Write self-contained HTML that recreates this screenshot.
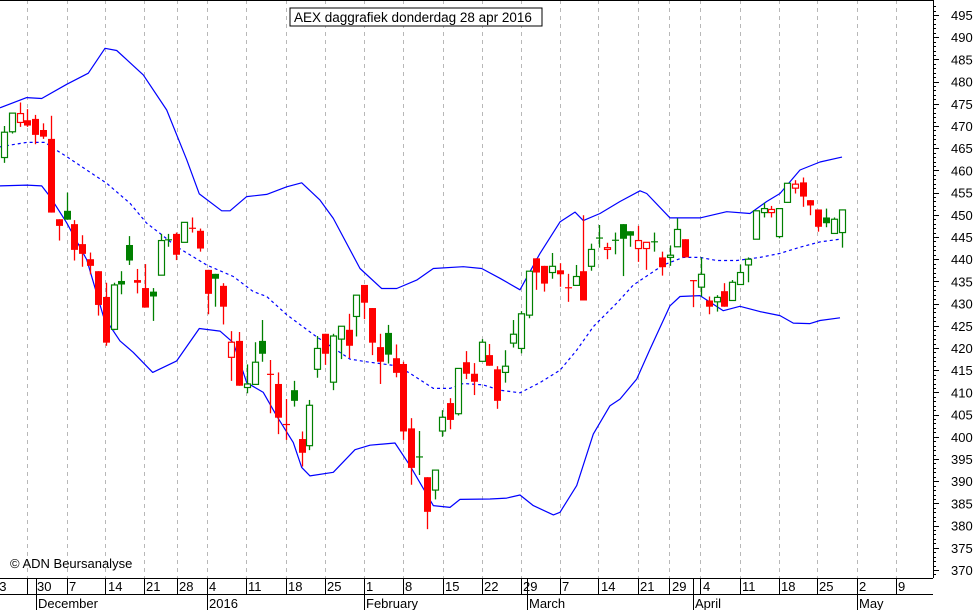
<!DOCTYPE html>
<html><head><meta charset="utf-8"><style>
html,body{margin:0;padding:0;background:#fff;}
svg{display:block;font-family:"Liberation Sans",sans-serif;}
</style></head><body>
<svg id="chart" width="980" height="610" viewBox="0 0 980 610" xmlns="http://www.w3.org/2000/svg">
<rect x="0" y="0" width="980" height="610" fill="#fff"/>
<g id="grid"></g>
<g id="bands"></g>
<g id="candles"></g>
<g id="axes"></g>
<g>
<rect x="290" y="8" width="252" height="18" fill="#fff" stroke="#000" stroke-width="1"/>
<text x="294" y="22" font-size="13.5" fill="#000">AEX daggrafiek donderdag 28 apr 2016</text>
</g>
<text x="10" y="568" font-size="13" fill="#000">© ADN Beursanalyse</text>
</svg>
<script>
const opens=[462.9,468.7,470.8,471.3,471.6,469.1,467.1,449.0,450.9,447.9,
443.4,440.0,437.3,431.5,424.2,435.1,443.2,435.3,433.5,432.7,
436.4,444.5,445.7,443.8,447.1,446.4,437.6,436.7,434.0,417.9,
421.6,411.1,411.8,421.6,414.2,411.9,402.9,410.5,399.5,398.0,
415.2,423.2,412.3,422.0,424.1,427.1,434.2,429.0,420.2,423.4,
417.7,416.4,401.9,395.6,390.9,388.0,401.3,407.6,405.2,416.8,
414.2,417.0,418.4,415.2,414.5,421.1,419.9,427.4,440.2,438.5,
437.0,437.5,433.7,434.1,437.3,438.4,444.9,442.2,444.4,447.9,
446.3,442.4,442.4,444.05,440.4,440.4,442.8,444.5,435.3,433.7,
430.7,430.4,432.8,430.7,434.3,438.7,444.5,450.5,450.5,445.1,
452.8,456.0,457.3,453.3,451.2,449.4,445.8,446.0];
const highs=[470.0,472.9,475.3,473.8,472.5,470.6,472.3,449.0,455.0,448.8,
445.4,441.5,437.3,434.7,434.7,437.3,445.2,437.8,438.9,433.5,
445.7,445.7,446.0,448.3,449.4,446.9,437.6,436.7,434.6,423.8,
423.6,416.3,421.3,426.3,417.3,414.5,408.5,412.6,401.2,408.3,
422.7,423.2,423.2,424.9,427.7,431.9,434.2,429.0,423.2,425.2,
420.8,416.9,404.2,401.3,390.9,392.5,406.0,408.7,415.4,419.3,
416.6,422.0,420.9,415.9,419.5,426.3,428.3,437.3,440.2,438.5,
441.4,439.1,436.7,438.7,449.9,443.5,447.7,443.7,446.0,447.9,
446.3,447.5,443.8,446.0,441.7,443.1,449.2,444.5,435.3,440.4,
431.6,431.9,434.6,435.3,438.8,440.4,450.9,452.7,452.0,451.4,
457.1,457.8,458.4,453.3,451.2,451.4,449.4,451.2];
const lows=[461.7,468.3,469.8,469.8,465.9,467.1,450.5,444.2,448.9,439.7,
438.3,436.6,427.3,420.5,424.0,432.1,438.7,432.3,429.1,426.1,
436.4,442.8,439.8,443.8,446.0,441.7,427.6,429.3,425.3,412.6,
411.5,409.8,411.8,416.9,405.3,400.6,399.3,406.8,393.3,397.0,
413.3,416.2,410.5,417.5,417.7,422.6,426.5,418.4,411.9,416.5,
413.4,399.3,389.2,391.4,379.2,385.9,400.0,401.7,404.8,413.0,
409.4,417.0,416.0,406.3,412.2,420.1,418.8,426.7,433.1,432.7,
435.6,433.8,430.4,434.1,430.7,437.4,442.6,440.0,441.1,436.2,
442.8,439.4,437.6,441.7,436.3,438.5,442.8,440.4,429.2,431.6,
427.6,428.2,429.3,430.7,434.3,434.8,444.5,449.4,449.4,444.7,
452.8,454.8,451.8,449.9,446.2,447.2,445.8,442.6];
const closes=[468.6,472.9,472.8,470.1,468.0,467.6,450.5,447.5,448.9,442.1,
441.2,438.5,429.7,421.2,434.2,434.3,439.7,434.7,429.1,431.6,
444.2,444.3,441.0,448.3,447.0,442.4,432.2,435.6,429.3,421.3,
411.5,411.9,416.8,418.7,414.0,404.3,402.7,408.1,396.4,407.1,
419.9,418.7,422.7,424.9,420.5,431.9,430.2,421.2,416.9,418.5,
414.4,401.2,393.0,395.4,383.1,392.5,404.4,403.8,415.4,414.2,
412.4,421.3,416.0,408.1,415.9,423.1,427.7,437.3,437.0,434.5,
438.4,436.6,433.5,436.1,430.7,442.2,444.7,442.6,444.3,444.6,
445.3,444.2,443.8,443.95,438.2,440.9,446.7,440.4,435.1,436.6,
429.3,431.4,429.3,434.8,437.0,440.0,450.9,451.4,451.2,451.4,
457.1,456.9,454.1,452.1,447.3,448.1,449.0,451.1];
const upperIdx=[-0.51,2.90,4.81,8.01,10.77,12.90,14.39,17.79,20.78,23.33,24.94,27.80,28.86,31.00,33.55,36.11,38.02,40.36,42.06,45.47,48.24,50.15,52.71,54.83,58.66,61.01,63.35,65.90,68.45,71.01,72.92,73.98,76.12,78.67,81.23,82.08,85.06,88.89,92.30,95.27,97.41,99.11,101.66,104.22,107.03];
const upperBand=[474.1,476.4,476.2,479.4,481.9,487.5,487.0,481.5,473.6,462.4,454.7,450.9,450.9,454.1,454.6,456.3,457.2,453.3,449.2,437.9,433.4,433.4,435.3,437.9,438.3,437.9,435.7,433.1,441.3,448.4,450.6,448.7,450.3,453.0,455.4,454.8,449.3,449.3,450.7,450.3,453.0,454.8,460.1,461.9,463.0];
const midIdx=[-0.51,0.77,2.90,5.24,6.30,8.01,10.56,13.12,16.09,18.22,19.92,22.06,25.89,29.29,31.84,33.55,36.11,39.94,44.19,46.32,50.15,51.85,54.83,56.96,58.66,61.21,63.35,65.90,68.45,71.01,73.14,75.26,78.25,80.37,84.20,86.76,88.89,91.02,93.58,96.55,99.11,101.66,104.22,106.77];
const midBand=[465.3,465.7,466.3,466.3,465.0,463.1,460.1,457.1,452.6,448.1,445.8,442.8,438.7,436.1,432.7,431.6,427.5,422.5,417.5,416.9,416.0,414.3,410.9,410.9,412.0,411.7,410.5,409.9,412.2,415.0,419.5,424.8,430.1,434.2,438.7,440.4,440.4,439.7,439.7,440.4,441.3,442.7,443.9,444.5];
const lowerIdx=[-0.51,2.90,4.81,5.88,8.01,10.56,12.68,14.81,16.51,18.99,22.06,24.94,27.59,29.29,31.00,33.12,34.83,36.95,38.02,39.08,42.06,44.83,46.74,49.94,51.85,54.83,56.96,58.24,62.07,64.20,65.90,67.60,70.16,71.01,73.14,75.26,77.39,78.67,80.80,82.50,85.06,86.33,88.89,91.87,93.99,96.55,99.11,100.80,102.94,104.22,106.77];
const lowerBand=[456.5,456.7,456.5,454.1,448.2,439.9,427.2,421.6,419.0,414.5,417.1,424.4,423.8,421.2,412.2,410.0,404.7,398.7,393.1,391.2,392.0,397.1,398.1,398.6,393.5,384.5,384.1,385.9,386.0,386.2,386.9,384.5,382.4,383.0,389.0,400.6,407.0,408.5,413.0,419.7,429.5,431.6,431.8,428.4,429.4,428.2,427.3,425.6,425.5,426.2,426.8];
const yTicks=[495,490,485,480,475,470,465,460,455,450,445,440,435,430,425,420,415,410,405,400,395,390,385,380,375,370];
const dayLabels=["23","30","7","14","21","28","4","11","18","25","1","8","15","22","29","7","14","21","29","4","11","18","25","2","9"];
const dayLabelX=[-8,37,69,108,146,179,209,248,288,327,366,405,445,484,523,562,601,640,672,703,742,781,819,859,898];
const gridX=[27,67,105,144,177,207,246,286,325,364,403,443,482,521,560,598,638,669,700,740,779,817,857,896];
const monthLabels=["December","2016","February","March","April","May"];
const monthX=[36,207,364,527,693,857];

const NS="http://www.w3.org/2000/svg";
const PLOT_R=933, PLOT_B=578;
const x=i=>4+i*7.83;
const y=v=>15+(495-v)*4.44;
function mk(tag,attrs,parent){const e=document.createElementNS(NS,tag);for(const k in attrs)e.setAttribute(k,attrs[k]);parent.appendChild(e);return e;}

const grid=document.getElementById('grid');
gridX.forEach(gx=>{
  const l=mk('line',{x1:gx+0.5,x2:gx+0.5,y1:0,y2:PLOT_B,stroke:'#b8b8b8','stroke-width':1,'stroke-dasharray':'4,4'},grid);
  
  
});

const bands=document.getElementById('bands');
function bandPath(idx,arr,name,dash){
  const pts=arr.map((v,k)=>Math.max(0,x(idx[k])).toFixed(1)+','+y(v).toFixed(1)).join(' ');
  const p=mk('polyline',{points:pts,fill:'none',stroke:'#0000ff','stroke-width':1.2,'stroke-linejoin':'round'},bands);
  if(dash)p.setAttribute('stroke-dasharray','3,3');
  
  
}
bandPath(upperIdx,upperBand,'upper-bollinger-band',false);
bandPath(midIdx,midBand,'middle-bollinger-band',true);
bandPath(lowerIdx,lowerBand,'lower-bollinger-band',false);

const cg=document.getElementById('candles');
for(let i=0;i<closes.length;i++){
  const o=opens[i],c=closes[i],h=highs[i],lo=lows[i];
  const up=i===0?true:c>closes[i-1];
  const col=up?'#008000':'#ff0000';
  const hollow=c>o;
  const cx=Math.round(x(i))+0.5;
  const g=mk('g',{},cg);
  
  
  mk('line',{x1:cx,x2:cx,y1:y(h),y2:y(lo),stroke:col,'stroke-width':1.3},g);
  const top=y(Math.max(o,c)),bot=y(Math.min(o,c));
  const hgt=Math.max(bot-top,1.2);
  if(hollow){
    mk('rect',{x:cx-3,y:top,width:6,height:hgt,fill:'#fff',stroke:col,'stroke-width':1.2},g);
  }else{
    mk('rect',{x:cx-3.5,y:top,width:7,height:hgt,fill:col},g);
  }
}

const ax=document.getElementById('axes');
mk('line',{x1:0,x2:PLOT_R,y1:0.5,y2:0.5,stroke:'#000','stroke-width':1},ax);
mk('line',{x1:PLOT_R+0.5,x2:PLOT_R+0.5,y1:0,y2:PLOT_B,stroke:'#000','stroke-width':1},ax);
mk('line',{x1:0,x2:PLOT_R,y1:PLOT_B+0.5,y2:PLOT_B+0.5,stroke:'#000','stroke-width':1},ax);
mk('line',{x1:0,x2:PLOT_R,y1:594.5,y2:594.5,stroke:'#000','stroke-width':1},ax);
for(let v=369;v<=497;v++){
  const yy=Math.round(y(v))+0.5;
  if(yy<1||yy>PLOT_B)continue;
  mk('line',{x1:PLOT_R,x2:PLOT_R+(v%5===0?6:3),y1:yy,y2:yy,stroke:'#000','stroke-width':1},ax);
}
yTicks.forEach(v=>{
  const t=mk('text',{x:951,y:y(v)+5,'font-size':13,fill:'#000'},ax);
  t.textContent=v;
  
  
});
gridX.forEach(gx=>{
  mk('line',{x1:gx+0.5,x2:gx+0.5,y1:PLOT_B,y2:594,stroke:'#000','stroke-width':1},ax);
});
dayLabels.forEach((d,k)=>{
  const t=mk('text',{x:dayLabelX[k],y:591,'font-size':13,fill:'#000'},ax);
  t.textContent=d;
  
  
});
monthLabels.forEach((m,k)=>{
  mk('line',{x1:monthX[k]+0.5,x2:monthX[k]+0.5,y1:PLOT_B,y2:610,stroke:'#000','stroke-width':1},ax);
  const t=mk('text',{x:monthX[k]+2,y:608,'font-size':13,fill:'#000'},ax);
  t.textContent=m;
  
  
});
</script>
</body></html>
